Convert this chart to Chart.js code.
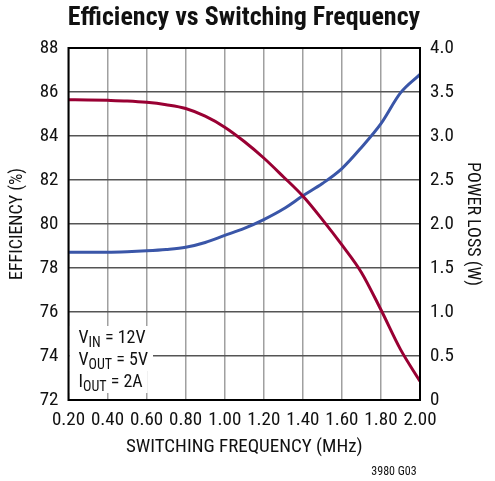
<!DOCTYPE html>
<html>
<head>
<meta charset="utf-8">
<script src="https://cdn.jsdelivr.net/npm/chart.js@4.4.1/dist/chart.umd.min.js"></script>
<style>
  html, body { margin: 0; padding: 0; background: #ffffff; }
  canvas { display: block; }
</style>
</head>
<body>
<canvas id="chart" width="495" height="481"></canvas>
<script>
const freqMHz = [0.2, 0.3, 0.4, 0.5, 0.6, 0.7, 0.8, 0.9, 1.0, 1.1, 1.2, 1.3, 1.4, 1.5, 1.6, 1.7, 1.8, 1.9, 2.0];
const efficiency = [85.65, 85.64, 85.62, 85.59, 85.53, 85.42, 85.25, 84.9, 84.4, 83.75, 83.0, 82.15, 81.27, 80.2, 79.05, 77.8, 76.1, 74.3, 72.85];
const powerLoss = [1.68, 1.68, 1.68, 1.685, 1.695, 1.71, 1.735, 1.79, 1.87, 1.95, 2.05, 2.17, 2.32, 2.46, 2.63, 2.87, 3.14, 3.49, 3.70];

const xTicks = [0.2, 0.4, 0.6, 0.8, 1.0, 1.2, 1.4, 1.6, 1.8, 2.0];
const effTicks = [72, 74, 76, 78, 80, 82, 84, 86, 88];
const lossTicks = [0, 0.5, 1.0, 1.5, 2.0, 2.5, 3.0, 3.5, 4.0];

const titleText = 'Efficiency vs Switching Frequency';
const conditions = [['V', 'IN', ' = 12V'], ['V', 'OUT', ' = 5V'], ['I', 'OUT', ' = 2A']];
const figureId = '3980 G03';

const FONT = '"Liberation Sans Narrow", "Roboto Condensed", "Liberation Sans", Arial, sans-serif';
const RED = '#990033';
const BLUE = '#3a56a8';

const toPoints = (ys) => freqMHz.map((x, i) => ({ x, y: ys[i] }));
const fixTicks = (list) => (scale) => { scale.ticks = list.map(v => ({ value: v })); };

const decorations = {
  id: 'decorations',
  beforeDatasetsDraw(chart) {
    const { ctx, chartArea: a } = chart;
    // condition labels sit on white boxes over the grid
    ctx.save();
    ctx.textBaseline = 'alphabetic';
    let base = 343;
    conditions.forEach(([main, sub, rest]) => {
      ctx.font = `18px ${FONT}`;
      const w1 = ctx.measureText(main).width;
      ctx.font = `14px ${FONT}`;
      const w2 = ctx.measureText(sub).width;
      ctx.font = `18px ${FONT}`;
      const w3 = ctx.measureText(rest).width;
      ctx.fillStyle = '#ffffff';
      ctx.fillRect(a.left + 1, base - 17, 10 + w1 + w2 + w3 + 4, 23);
      let x = a.left + 10;
      ctx.fillStyle = '#111111';
      ctx.fillText(main, x, base);
      x += w1;
      ctx.font = `14px ${FONT}`;
      ctx.fillText(sub, x, base + 4);
      x += w2;
      ctx.font = `18px ${FONT}`;
      ctx.fillText(rest, x, base);
      base += 22;
    });
    ctx.restore();
  },
  afterDraw(chart) {
    const { ctx, chartArea: a } = chart;
    ctx.save();
    ctx.strokeStyle = '#000000';
    ctx.lineWidth = 2;
    ctx.strokeRect(a.left, a.top, a.right - a.left, a.bottom - a.top);
    ctx.fillStyle = '#111111';
    ctx.textAlign = 'center';
    ctx.textBaseline = 'middle';
    ctx.font = `bold 26px ${FONT}`;
    ctx.fillText(titleText, 244, 18);
    ctx.font = `12px ${FONT}`;
    ctx.fillText(figureId, 394, 472);
    ctx.restore();
  }
};

Chart.defaults.font.family = FONT;
Chart.defaults.color = '#111111';

new Chart(document.getElementById('chart').getContext('2d'), {
  type: 'line',
  data: {
    datasets: [
      {
        label: 'Efficiency',
        data: toPoints(efficiency),
        yAxisID: 'yEff',
        borderColor: RED,
        borderWidth: 3,
        pointRadius: 0,
        cubicInterpolationMode: 'monotone'
      },
      {
        label: 'Power Loss',
        data: toPoints(powerLoss),
        yAxisID: 'yLoss',
        borderColor: BLUE,
        borderWidth: 3,
        pointRadius: 0,
        cubicInterpolationMode: 'monotone'
      }
    ]
  },
  options: {
    responsive: false,
    animation: false,
    devicePixelRatio: 1,
    layout: { padding: { top: 48, left: 0, right: 0, bottom: 0 } },
    plugins: { legend: { display: false }, tooltip: { enabled: false } },
    scales: {
      x: {
        type: 'linear',
        min: 0.2,
        max: 2.0,
        afterBuildTicks: fixTicks(xTicks),
        afterFit: (s) => { s.height = 81; },
        grid: { color: '#a0a0a0', lineWidth: 1.5, drawTicks: false },
        border: { display: false },
        ticks: { padding: 9, font: { size: 19 }, maxRotation: 0, autoSkip: false,
                 callback: (v) => Number(v).toFixed(2) },
        title: { display: true, text: 'SWITCHING FREQUENCY (MHz)', font: { size: 19 },
                 padding: { top: 0, bottom: 22 } }
      },
      yEff: {
        position: 'left',
        min: 72,
        max: 88,
        afterBuildTicks: fixTicks(effTicks),
        afterFit: (s) => { s.width = 68.5; },
        grid: { color: '#555555', lineWidth: 1.5, drawTicks: false },
        border: { display: false },
        ticks: { padding: 10, font: { size: 19 } },
        title: { display: true, text: 'EFFICIENCY (%)', font: { size: 18 },
                 padding: { top: 7, bottom: 0 } }
      },
      yLoss: {
        position: 'right',
        min: 0,
        max: 4,
        afterBuildTicks: fixTicks(lossTicks),
        afterFit: (s) => { s.width = 75; },
        grid: { display: false, drawTicks: false },
        border: { display: false },
        ticks: { padding: 10, font: { size: 19 },
                 callback: (v) => (v === 0 ? '0' : Number(v).toFixed(1)) },
        title: { display: true, text: 'POWER LOSS (W)', font: { size: 18 },
                 padding: { top: 12, bottom: 0 } }
      }
    }
  },
  plugins: [decorations]
});
</script>
</body>
</html>
